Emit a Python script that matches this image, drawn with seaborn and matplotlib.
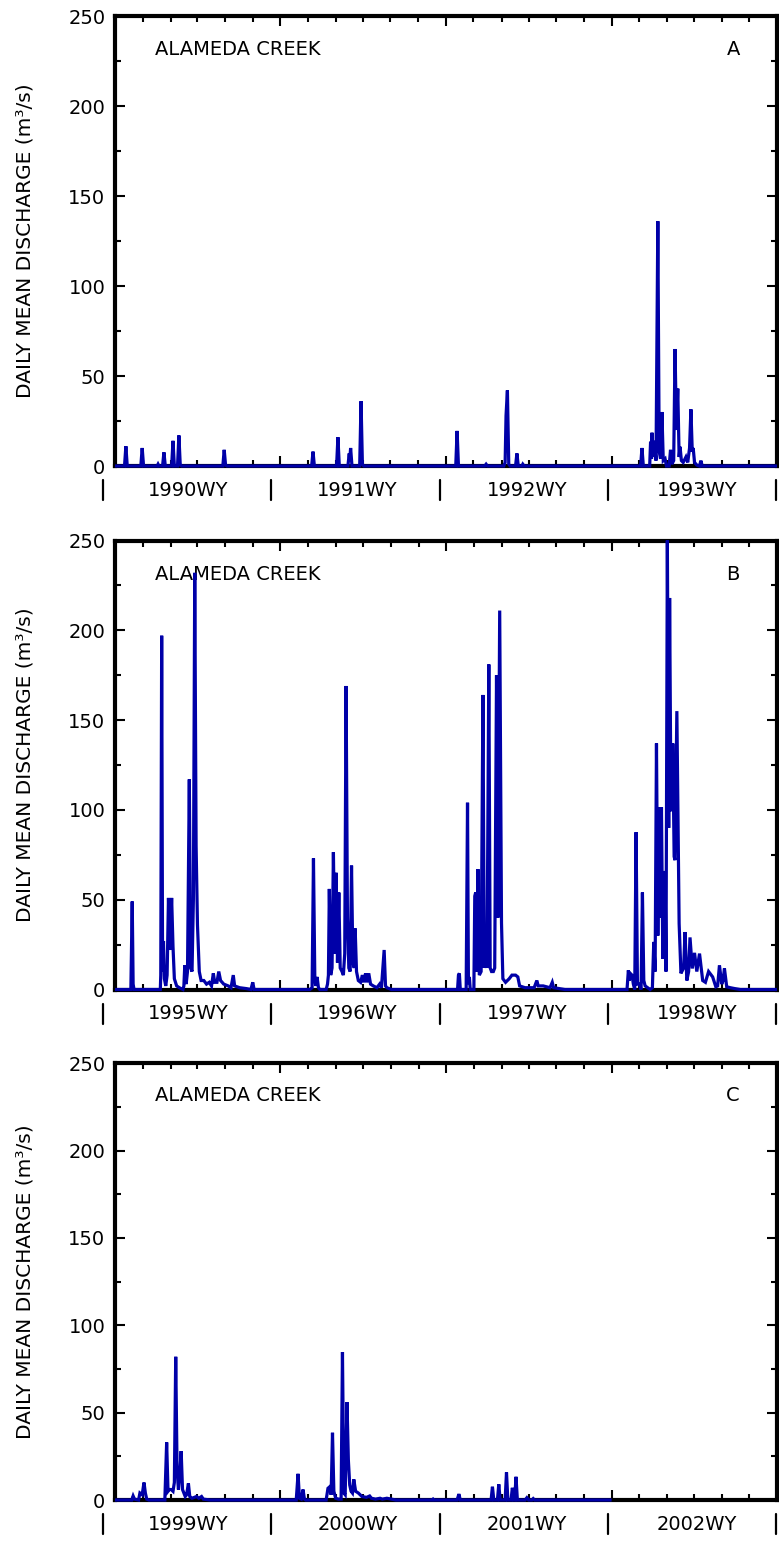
import matplotlib
matplotlib.use("Agg")
import matplotlib.pyplot as plt
import matplotlib.dates as mdates
import pandas as pd
import seaborn as sns

sns.set_theme(style="white")
plt.rcParams["font.family"] = ["DejaVu Sans"]
plt.rcParams["text.color"] = "black"
plt.rcParams["axes.labelcolor"] = "black"
plt.rcParams["xtick.color"] = "black"
plt.rcParams["ytick.color"] = "black"

# ---------------- data ----------------
station = "ALAMEDA CREEK"
panel_letters = ["A", "B", "C"]
water_years_a = [1990, 1991, 1992, 1993]
water_years_b = [1995, 1996, 1997, 1998]
water_years_c = [1999, 2000, 2001, 2002]

# days since Oct 1 of the first water year in the panel, and daily mean discharge (m3/s)
days_a = [0, 21, 24, 27, 57, 60, 63, 93, 95, 97,
          105, 108, 111, 125, 128, 131, 138, 141, 144, 147,
          238, 241, 244, 247, 434, 437, 440, 489, 492, 495,
          514, 517, 518, 520, 523, 540, 543, 546, 549, 752,
          755, 758, 816, 819, 822, 858, 861, 863, 866, 869,
          872, 884, 887, 890, 898, 900, 903, 1160, 1163, 1166,
          1180, 1182, 1184, 1185, 1188, 1191, 1194, 1198, 1201, 1204,
          1207, 1210, 1214, 1217, 1223, 1226, 1229, 1233, 1236, 1239,
          1242, 1245, 1247, 1250, 1254, 1260, 1264, 1268, 1271, 1274,
          1276, 1279, 1284, 1290, 1293, 1296, 1461]
flow_a = [0, 0, 11, 0, 0, 10, 0, 0, 1, 0,
          0, 7.6, 0, 0, 14, 0, 0, 17, 0.5, 0,
          0, 9, 0.5, 0, 0, 8, 0, 0, 16, 0,
          0, 7, 3, 10, 0, 0, 36, 1, 0, 0,
          19.5, 0, 0, 1, 0, 0, 2, 28, 42, 1,
          0, 0, 7, 0, 0, 1, 0, 0, 10, 0,
          0, 13.5, 4, 18.5, 5, 14, 3, 136, 8, 4,
          30, 3, 4, 0, 0, 9, 1, 3, 65, 20,
          43, 5, 10.7, 3, 2, 5, 2, 10, 31.5, 8,
          10, 2, 0.5, 0, 3, 0, 0]

days_b = [0, 35, 38, 40, 42, 100, 101, 103, 105, 107,
          109, 112, 115, 118, 121, 125, 128, 131, 136, 142,
          150, 152, 154, 157, 160, 164, 167, 170, 173, 176,
          179, 182, 186, 190, 196, 202, 208, 213, 217, 220,
          225, 229, 233, 240, 250, 256, 261, 264, 275, 290,
          300, 304, 307, 430, 435, 438, 441, 443, 446, 449,
          452, 466, 469, 471, 473, 476, 479, 482, 485, 488,
          491, 494, 497, 501, 504, 507, 510, 513, 516, 519,
          522, 525, 528, 530, 533, 537, 542, 546, 549, 553,
          556, 560, 564, 570, 578, 584, 588, 594, 597, 600,
          610, 756, 758, 760, 762, 775, 778, 780, 782, 784,
          792, 794, 796, 798, 801, 804, 808, 812, 815, 818,
          821, 825, 828, 831, 835, 838, 842, 845, 849, 853,
          856, 862, 870, 876, 884, 889, 893, 905, 925, 931,
          934, 945, 960, 965, 968, 980, 993, 1130, 1133, 1135,
          1137, 1141, 1144, 1147, 1150, 1153, 1157, 1161, 1164, 1167,
          1170, 1181, 1186, 1189, 1192, 1195, 1198, 1201, 1204, 1206,
          1209, 1212, 1214, 1216, 1219, 1222, 1224, 1227, 1229, 1231,
          1234, 1236, 1240, 1245, 1249, 1255, 1258, 1262, 1266, 1269,
          1274, 1279, 1284, 1290, 1297, 1303, 1310, 1319, 1326, 1330,
          1334, 1339, 1342, 1345, 1350, 1358, 1368, 1380, 1461]
flow_b = [0, 0, 49, 3, 0, 0, 8, 197, 10, 27,
          6, 2, 8, 51, 22, 51, 24, 6, 2, 1,
          0, 2, 13.5, 3, 10, 117, 12, 10, 50, 232,
          80, 36, 10, 5, 5, 3, 4, 2, 9, 4,
          4, 10, 5, 3, 2, 1, 8, 2, 1, 0.5,
          0, 4, 0, 0, 1, 73, 6, 2, 7, 1,
          0, 0, 3, 8, 56, 8, 12, 76.5, 20, 65,
          15, 54, 12, 10, 8, 20, 169, 40, 12, 10,
          69, 15, 12, 34, 10, 5, 4, 8, 4, 9,
          4, 9, 3, 2, 1, 3, 1, 22, 2, 1,
          0, 0, 8, 9, 0, 0, 104, 3, 7, 0,
          0, 52, 54, 10, 67, 8, 10, 164, 12, 20,
          12, 181, 12, 10, 10, 12, 175, 40, 211, 37,
          6, 4, 6, 8, 8, 7, 2, 1, 1, 5,
          2, 2, 1, 4, 1, 0.5, 0, 0, 10.7, 5,
          9, 8, 3, 0, 87.6, 3, 3, 0, 54, 5,
          2, 0, 1, 26.5, 10, 137, 30, 101.5, 40, 101.5,
          17, 40, 66, 10, 250, 90, 218, 100, 100, 137,
          74, 72, 155, 36.7, 9, 12, 32, 5, 10, 29,
          11.7, 20.4, 10, 20, 5, 4, 10, 7, 1.5, 2,
          13.5, 3, 5, 11.7, 1.5, 1, 0.5, 0, 0]

days_c = [0, 37, 40, 43, 52, 55, 60, 64, 67, 70,
          75, 110, 114, 117, 120, 124, 128, 131, 134, 137,
          140, 143, 146, 149, 152, 155, 158, 162, 165, 170,
          180, 185, 191, 195, 210, 400, 404, 407, 411, 415,
          418, 421, 466, 470, 474, 477, 480, 483, 487, 493,
          499, 502, 505, 508, 512, 515, 518, 521, 524, 527,
          531, 537, 545, 555, 562, 566, 575, 585, 590, 600,
          610, 620, 700, 702, 704, 755, 759, 762, 830, 833,
          836, 844, 847, 850, 861, 864, 867, 874, 877, 880,
          882, 885, 888, 895, 905, 909, 913, 920, 923, 926,
          935, 1096]
flow_c = [0, 0, 2.3, 0.5, 0, 4, 3, 10, 4, 0.5,
          0, 0, 33, 5, 6, 6, 5, 10, 82, 17,
          6, 15, 28, 6, 4, 2, 3, 9.5, 2, 1,
          2, 1, 2, 0.5, 0, 0, 15, 1, 0.5, 6,
          0.5, 0, 0, 6.7, 7.6, 3, 38.5, 5, 1, 0.5,
          0.5, 84.7, 4, 3, 56, 23, 8.6, 5, 4, 11.8,
          5, 4, 2, 1.5, 2.3, 1, 0.5, 1, 0.5, 1,
          0.5, 0, 0, 0.5, 0, 0, 3.4, 0, 0, 7.6,
          0, 0, 9, 0, 0, 15.8, 0, 0, 7, 0,
          0, 13.3, 0, 0, 0, 1.3, 0, 0, 0.8, 0,
          0, 0]

# ---------------- style / layout ----------------
BLUE = "#0000A8"
FS = 14
axes_rects = [
    [115 / 779, 1 - 466 / 1557, 662 / 779, 450 / 1557],
    [115 / 779, 1 - 989.5 / 1557, 662 / 779, 449 / 1557],
    [115 / 779, 1 - 1500 / 1557, 662 / 779, 436.7 / 1557],
]
bar_row_left, bar_row_step = -0.018, 0.2541
label_row_left, label_row_step = 0.110, 0.2563

fig = plt.figure(figsize=(7.79, 15.57), dpi=100)

panels = [
    (days_a, flow_a, water_years_a),
    (days_b, flow_b, water_years_b),
    (days_c, flow_c, water_years_c),
]

for (days, flow, wys), letter, rect in zip(panels, panel_letters, axes_rects):
    n = min(len(days), len(flow))
    ax = fig.add_axes(rect)
    start = pd.Timestamp(f"{wys[0] - 1}-10-01")
    end = pd.Timestamp(f"{wys[-1]}-10-01")
    df = pd.DataFrame({
        "date": start + pd.to_timedelta(days[:n], unit="D"),
        "flow": flow[:n],
    })
    sns.lineplot(data=df, x="date", y="flow", ax=ax, color=BLUE, linewidth=2.3,
                 estimator=None, sort=True, clip_on=False, zorder=4,
                 solid_capstyle="butt", solid_joinstyle="miter")
    ax.set_xlim(start, end)
    ax.set_ylim(0, 250)
    ax.set_xlabel("")
    ax.set_ylabel("DAILY MEAN DISCHARGE (m³/s)", fontsize=14.5, color="black")
    ax.yaxis.set_label_coords(-0.122, 0.5)

    ax.set_yticks([0, 50, 100, 150, 200, 250])
    ax.set_yticks([25, 75, 125, 175, 225], minor=True)
    ax.xaxis.set_major_locator(mdates.MonthLocator(bymonth=[10]))
    ax.xaxis.set_minor_locator(mdates.MonthLocator(bymonth=[12, 2, 4, 6, 8]))
    ax.tick_params(axis="both", which="both", direction="in", top=True, right=True,
                   bottom=True, left=True, color="black", width=1.5)
    ax.tick_params(axis="both", which="major", length=7.5)
    ax.tick_params(axis="both", which="minor", length=4.5)
    ax.tick_params(axis="x", labelbottom=False)
    ax.tick_params(axis="y", labelsize=FS, pad=7, labelcolor="black")
    for sp in ax.spines.values():
        sp.set_linewidth(3)
        sp.set_color("black")
        sp.set_visible(True)
    ax.grid(False)

    ax.text(0.06, 0.913, station, transform=ax.transAxes, fontsize=FS,
            ha="left", va="baseline", color="black")
    ax.text(0.944, 0.913, letter, transform=ax.transAxes, fontsize=FS,
            ha="right", va="baseline", color="black")

    # water-year row below the axis
    h_px = rect[3] * 1557
    y_bar_top = -14 / h_px
    y_bar_bot = -34 / h_px
    y_lab = -24 / h_px
    for k in range(len(wys) + 1):
        xb = bar_row_left + bar_row_step * k
        ax.plot([xb, xb], [y_bar_top, y_bar_bot], transform=ax.transAxes,
                color="black", linewidth=1.6, clip_on=False)
    for k, wy in enumerate(wys):
        ax.text(label_row_left + label_row_step * k, y_lab, f"{wy}WY",
                transform=ax.transAxes, fontsize=FS, ha="center", va="center",
                color="black")

fig.savefig("out.png", dpi=100)
